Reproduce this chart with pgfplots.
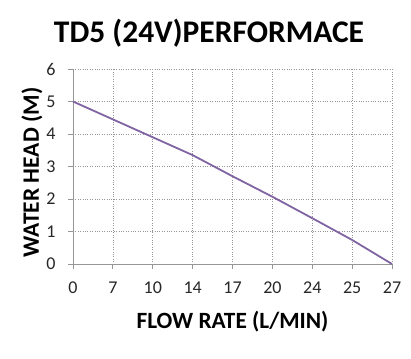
\documentclass[border=0pt]{standalone}
\usepackage{pgfplots}
\pgfplotsset{compat=1.18}
\usepackage{fontspec}
\setmainfont{Carlito}
\definecolor{linec}{HTML}{8064A2}
\definecolor{axc}{RGB}{150,150,150}
\begin{document}
\begin{tikzpicture}[x=1pt,y=1pt]
\useasboundingbox (-73,-94) rectangle (338,264);
\begin{axis}[
  at={(0,0)}, anchor=south west,
  scale only axis, width=319pt, height=195pt,
  xmin=0, xmax=8, ymin=0, ymax=6,
  xtick={0,...,8},
  xticklabels={0,7,10,14,17,20,24,25,27},
  ytick={0,...,6},
  axis x line*=bottom, axis y line*=left,
  axis line style={axc, line width=0.8pt, -},
  tick align=outside, major tick length=5pt,
  tick style={axc, line width=0.8pt},
  grid=major,
  major grid style={axc, dotted, line width=0.7pt},
  ticklabel style={font=\fontsize{18}{20}\selectfont, text=black!85},
  xticklabel style={yshift=-9pt},
  yticklabel style={xshift=-9pt},
  /pgf/number format/assume math mode=true,
  clip=false,
]
\addplot[linec, line width=1.8pt] coordinates {
(0,5) (1,4.45) (2,3.9) (3,3.35) (4,2.7) (5,2.07) (6,1.41) (7,0.74) (8,0)
};
\end{axis}
\node[font=\bfseries\fontsize{31.5}{33}\selectfont] at (136,231) {TD5 (24V)PERFORMACE};
\node[font=\bfseries\fontsize{23.3}{25}\selectfont] at (159.5,-58) {FLOW RATE (L/MIN)};
\node[font=\bfseries\fontsize{23.5}{25}\selectfont, rotate=90] at (-41,91.5) {WATER HEAD (M)};
\end{tikzpicture}
\end{document}
